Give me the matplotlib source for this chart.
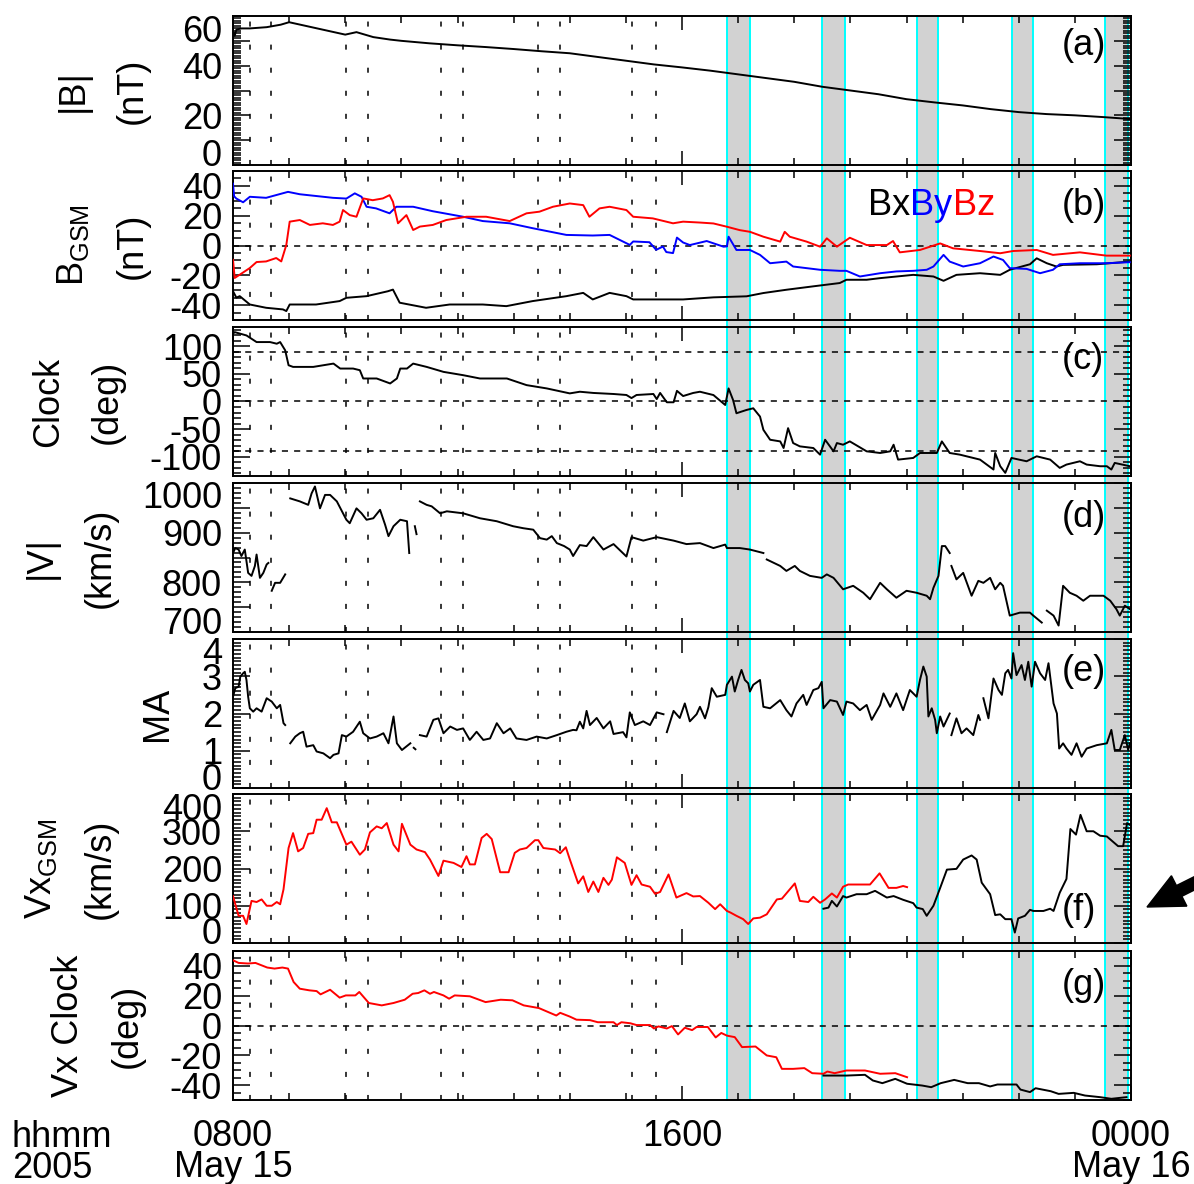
import numpy as np
import matplotlib
matplotlib.use('Agg')
import matplotlib.pyplot as plt
from matplotlib.patches import Rectangle, FancyArrow
from matplotlib.lines import Line2D
from matplotlib.transforms import blended_transform_factory, ScaledTranslation

plt.rcParams['font.family'] = 'Liberation Sans'
plt.rcParams['mathtext.fontset'] = 'custom'
plt.rcParams['mathtext.rm'] = 'Liberation Sans'
plt.rcParams['mathtext.it'] = 'Liberation Sans:italic'
plt.rcParams['mathtext.default'] = 'regular'

nan = np.nan
# time in hours of May 15 (24 = 0000 May 16)

# (a) |B| nT
bmag_pts = [(8.00, 54), (8.03, 52), (8.06, 54.5), (8.15, 55), (8.30, 55), (8.60, 55.5), (8.85, 56.5),
            (9.00, 57.5), (9.20, 56.5), (9.50, 55), (9.80, 53.5), (10.00, 52.5), (10.20, 53.5),
            (10.50, 51.5), (10.80, 50.5), (11.00, 50), (11.50, 49), (12.00, 48.2), (12.50, 47.5),
            (13.00, 46.7), (13.50, 45.8), (14.00, 45), (14.50, 43.5), (15.00, 42), (15.50, 40.5),
            (16.00, 39.3), (16.50, 38), (17.00, 36.5), (17.50, 35), (18.00, 33.5), (18.50, 31.5),
            (19.00, 30), (19.50, 28.5), (20.00, 26.5), (20.50, 25.2), (21.00, 24), (21.50, 22.5),
            (22.00, 21.3), (22.50, 20.5), (23.00, 20), (23.50, 19.3), (24.00, 18.5)]

# (b) B GSM components nT
bx_pts = [(8.00, -30.7), (8.06, -35), (8.12, -34), (8.30, -39.6), (8.59, -41.8), (8.89, -42.9),
          (8.95, -44), (9.01, -39.6), (9.48, -39.6), (9.90, -37.3), (10.02, -35.1), (10.38, -34),
          (10.76, -30.7), (10.85, -29.6), (10.97, -38.4), (11.44, -41.8), (11.86, -39.6),
          (12.45, -39.6), (12.87, -40.7), (13.34, -37.3), (13.94, -34), (14.24, -31.8),
          (14.41, -36.2), (14.71, -31.8), (15.01, -34), (15.13, -36.2), (15.54, -36.2),
          (16.02, -36.2), (16.56, -34.8), (17.15, -34.1), (17.45, -31.9), (17.86, -29.7),
          (18.34, -27.4), (18.81, -25.2), (18.93, -23), (19.29, -23), (19.53, -21.9),
          (20.12, -19.7), (20.48, -20.8), (20.66, -23.7), (20.89, -19.7), (21.31, -18.6),
          (21.67, -19.7), (21.84, -16.3), (22.20, -12.6), (22.32, -8.6), (22.50, -11.9),
          (22.67, -14.1), (22.79, -13), (23.39, -12.6), (23.98, -10.8)]
by_pts = [(8.00, 41.5), (8.02, 33), (8.06, 31.5), (8.18, 29), (8.30, 32.7), (8.59, 32), (8.98, 36),
          (9.19, 34.4), (9.78, 32), (10.02, 31.5), (10.17, 35), (10.29, 32.7), (10.38, 26),
          (10.55, 24.9), (10.79, 21.6), (10.91, 26), (11.21, 26), (11.56, 23), (12.10, 19.3),
          (12.45, 16.4), (12.93, 14.9), (13.34, 11.6), (13.94, 7.1), (14.41, 6.7), (14.71, 7.1),
          (15.07, 0.4), (15.13, 2.7), (15.42, 2.2), (15.54, -2.9), (15.66, -0.7), (15.72, -4.4),
          (15.84, -5.1), (15.91, 5.3), (16.02, 2), (16.14, 0.3), (16.44, 3.0), (16.74, -0.8),
          (16.80, -0.6), (16.83, 5.9), (16.97, -3), (17.21, -3), (17.39, -6.3), (17.57, -11.9),
          (17.86, -10.8), (17.98, -14.1), (18.46, -16.3), (18.81, -17), (18.93, -17),
          (19.17, -20.8), (19.53, -18.6), (19.82, -17.4), (20.12, -17), (20.36, -16.3),
          (20.48, -14.1), (20.66, -6.3), (20.77, -10.8), (21.01, -14.1), (21.31, -11.9),
          (21.55, -7.4), (21.72, -9.7), (21.84, -15.2), (22.14, -15.7), (22.38, -18.6),
          (22.61, -16.3), (22.73, -12.6), (23.09, -11.9), (23.56, -11.9), (23.98, -11.2)]
bz_pts = [(8.00, -9.6), (8.03, -21.8), (8.12, -19.6), (8.30, -15.1), (8.42, -11.1), (8.59, -10.7),
          (8.77, -8.4), (8.86, -10.7), (8.95, 0.4), (9.01, 16), (9.19, 17.1), (9.37, 13.8),
          (9.60, 14.9), (9.78, 13.8), (9.90, 16), (9.96, 23.8), (10.08, 20.4), (10.20, 19.3),
          (10.32, 31.6), (10.49, 30.4), (10.67, 31.6), (10.79, 33.8), (10.85, 29.3), (10.94, 14.9),
          (11.09, 20.4), (11.21, 10.4), (11.33, 12.7), (11.56, 13.8), (11.80, 17.1), (12.16, 19.3),
          (12.51, 19.3), (12.93, 16.4), (13.23, 21.6), (13.46, 22.7), (13.70, 26), (14.00, 28.2),
          (14.24, 27.1), (14.35, 19.3), (14.53, 24.9), (14.71, 26), (15.01, 23.8), (15.13, 19.3),
          (15.48, 18.2), (15.84, 14.9), (16.02, 16), (16.32, 15.4), (16.56, 14.8), (16.80, 12.6),
          (17.03, 10.3), (17.21, 9.2), (17.45, 5.9), (17.75, 2.6), (17.83, 9.2), (17.92, 5.9),
          (18.22, 2.6), (18.46, -0.8), (18.58, 4.8), (18.76, -0.8), (18.99, 5.2), (19.29, 0.3),
          (19.65, 0.3), (19.76, 3), (19.88, -4.6), (20.24, -3), (20.60, 1.4), (20.83, -1.9),
          (21.31, -3.7), (21.67, -5.2), (21.90, -3.7), (22.32, -3), (22.61, -6.3), (23.09, -4.6),
          (23.56, -6.8), (23.98, -6.8)]

# (c) IMF clock angle deg
clock_pts = [(8.00, 122.7), (8.03, 125.7), (8.24, 119.7), (8.42, 107.7), (8.66, 107.7), (8.78, 104.7),
             (8.84, 107.7), (8.93, 92.7), (8.99, 65.7), (9.07, 62.7), (9.43, 62.7), (9.79, 68.7),
             (9.91, 59.7), (10.14, 59.7), (10.26, 56.7), (10.32, 41.7), (10.56, 41.7), (10.80, 32.7),
             (10.92, 41.7), (10.98, 59.7), (11.10, 59.7), (11.21, 68.7), (11.45, 62.7), (11.75, 53.7),
             (12.10, 47.7), (12.40, 41.7), (12.88, 41.7), (13.23, 29.7), (13.59, 23.7), (14.00, 14.7),
             (14.18, 17.7), (14.42, 15.5), (14.78, 13.6), (15.01, 11.8), (15.10, 6.2), (15.19, 11.8),
             (15.49, 13.6), (15.55, 4.4), (15.61, 15.5), (15.73, -1.4), (15.85, -1.4), (15.91, 19.3),
             (16.02, 9.9), (16.20, 15.5), (16.32, 17.7), (16.56, 11.7), (16.77, -6.3), (16.83, 23.7),
             (16.91, 2.7), (16.97, -21.3), (17.15, -15.3), (17.27, -12.3), (17.39, -27.3),
             (17.45, -51.3), (17.57, -69.3), (17.75, -72.3), (17.81, -84.3), (17.89, -48.3),
             (17.98, -75.3), (18.10, -81.3), (18.34, -84.3), (18.46, -96.3), (18.55, -69.3),
             (18.70, -90.3), (18.76, -75.3), (18.87, -78.3), (18.99, -72.3), (19.29, -90.3),
             (19.53, -93.3), (19.71, -90.3), (19.77, -78.3), (19.85, -105.3), (20.12, -102.3),
             (20.24, -93.3), (20.54, -93.3), (20.63, -72.3), (20.77, -93.3), (20.95, -96.3),
             (21.31, -105.3), (21.55, -123.3), (21.58, -93.3), (21.67, -117.3), (21.76, -129.3),
             (21.87, -102.3), (22.14, -108.3), (22.32, -99.3), (22.56, -105.3), (22.73, -120.3),
             (22.85, -114.3), (23.09, -108.3), (23.21, -114.3), (23.45, -117.3), (23.57, -117.3),
             (23.65, -123.3), (23.71, -111.3), (23.98, -117.3)]

# (d) |V| km/s (nan = data gap)
vmag_pts = [(8.00, 859), (8.04, 869), (8.10, 866), (8.15, 853), (8.21, 866), (8.27, 819), (8.33, 813),
            (8.39, 833), (8.42, 856), (8.48, 809), (8.54, 819), (8.60, 836), (8.63, 839), (8.66, nan),
            (8.69, 783), (8.75, 799), (8.84, 799), (8.93, 816), (8.97, nan),
            (9.02, 969), (9.19, 963), (9.34, 956), (9.40, 979), (9.46, 993), (9.55, 949), (9.64, 976),
            (9.73, 976), (9.85, 963), (10.02, 926), (10.08, 919), (10.20, 949), (10.29, 939),
            (10.38, 926), (10.50, 929), (10.62, 946), (10.71, 916), (10.77, 893), (10.86, 913),
            (10.98, 926), (11.10, 923), (11.14, 859), (11.19, nan),
            (11.24, 913), (11.27, 897), (11.30, nan),
            (11.33, 963), (11.45, 956), (11.54, 953), (11.69, 939), (11.81, 943), (12.10, 939),
            (12.40, 929), (12.70, 923), (12.99, 913), (13.17, 909), (13.35, 906), (13.47, 889),
            (13.59, 886), (13.68, 893), (13.77, 879), (13.90, 873), (14.00, 866), (14.06, 853),
            (14.18, 875), (14.30, 873), (14.42, 891), (14.60, 866), (14.78, 877), (15.01, 852),
            (15.10, 891), (15.31, 884), (15.55, 891), (15.85, 884), (16.08, 877), (16.32, 879),
            (16.56, 869), (16.77, 876), (16.80, 869), (17.03, 869), (17.21, 866), (17.45, 859),
            (17.48, nan),
            (17.51, 846), (17.75, 833), (17.86, 823), (18.01, 833), (18.10, 823), (18.28, 813),
            (18.49, 809), (18.58, 816), (18.70, 809), (18.87, 786), (19.05, 793), (19.23, 779),
            (19.35, 766), (19.53, 799), (19.65, 786), (19.82, 769), (20.00, 783), (20.18, 779),
            (20.36, 773), (20.42, 766), (20.48, 789), (20.57, 813), (20.63, 873), (20.69, 873),
            (20.77, 859), (20.78, nan),
            (20.80, 833), (20.89, 806), (21.01, 819), (21.16, 773), (21.28, 803), (21.37, 799),
            (21.49, 809), (21.58, 786), (21.67, 799), (21.72, 793), (21.84, 733), (22.02, 739),
            (22.20, 739), (22.26, 733), (22.41, 719), (22.45, nan),
            (22.50, 743), (22.62, 733), (22.71, 713), (22.79, 793), (22.91, 779), (23.03, 773),
            (23.15, 763), (23.27, 773), (23.51, 773), (23.63, 763), (23.74, 746), (23.80, 733),
            (23.89, 753), (23.98, 746)]

# (e) Alfven Mach number
ma_pts = [(8.00, 2.45), (8.04, 2.68), (8.10, 2.72), (8.13, 2.99), (8.18, 3.08), (8.21, 3.12), (8.24, 2.90),
          (8.27, 2.45), (8.30, 2.14), (8.36, 2.05), (8.42, 2.14), (8.51, 2.05), (8.60, 2.41), (8.69, 2.32),
          (8.78, 2.14), (8.84, 2.23), (8.90, 1.74), (8.93, 1.69), (8.97, nan),
          (9.02, 1.20), (9.11, 1.38), (9.19, 1.47), (9.25, 1.51), (9.31, 1.11), (9.43, 1.15),
          (9.49, 0.98), (9.61, 0.93), (9.73, 0.80), (9.79, 0.89), (9.88, 0.93), (9.94, 1.42),
          (10.02, 1.38), (10.14, 1.51), (10.26, 1.78), (10.32, 1.47), (10.44, 1.33), (10.56, 1.38),
          (10.68, 1.47), (10.77, 1.20), (10.86, 1.92), (10.92, 1.20), (11.01, 1.02), (11.16, 1.20),
          (11.19, nan),
          (11.22, 1.08), (11.25, 1.04), (11.29, nan),
          (11.33, 1.42), (11.45, 1.38), (11.57, 1.83), (11.66, 1.87), (11.75, 1.47), (11.87, 1.65),
          (11.99, 1.56), (12.10, 1.60), (12.22, 1.29), (12.34, 1.51), (12.46, 1.29), (12.58, 1.33),
          (12.70, 1.74), (12.82, 1.47), (12.94, 1.60), (13.05, 1.33), (13.23, 1.29), (13.41, 1.38),
          (13.59, 1.33), (13.77, 1.42), (13.94, 1.51), (14.06, 1.56), (14.12, 1.55), (14.18, 1.78),
          (14.24, 1.60), (14.30, 2.07), (14.36, 1.69), (14.48, 1.88), (14.60, 1.60), (14.72, 1.79),
          (14.78, 1.45), (14.95, 1.50), (15.01, 1.36), (15.07, 2.03), (15.16, 1.69), (15.31, 1.79),
          (15.43, 1.69), (15.55, 2.03), (15.67, 1.98), (15.70, nan),
          (15.73, 1.50), (15.85, 2.07), (15.96, 1.88), (16.05, 2.27), (16.14, 1.79), (16.26, 1.98),
          (16.32, 2.18), (16.41, 1.87), (16.47, 2.17), (16.53, 2.68), (16.62, 2.45), (16.77, 2.50),
          (16.80, 2.77), (16.89, 2.99), (16.94, 2.59), (17.00, 2.90), (17.06, 3.17), (17.12, 2.90),
          (17.18, 2.81), (17.21, 2.59), (17.27, 2.77), (17.39, 2.90), (17.45, 2.18), (17.57, 2.14),
          (17.75, 2.36), (17.86, 2.09), (17.95, 1.92), (18.04, 2.27), (18.16, 2.50), (18.22, 2.23),
          (18.34, 2.63), (18.43, 2.68), (18.49, 2.85), (18.52, 2.14), (18.64, 2.36), (18.76, 2.32),
          (18.87, 1.96), (18.93, 2.32), (19.05, 2.27), (19.17, 2.09), (19.29, 2.23), (19.38, 1.83),
          (19.53, 2.23), (19.59, 2.54), (19.71, 2.18), (19.82, 2.54), (19.94, 2.09), (20.06, 2.63),
          (20.18, 2.45), (20.24, 2.90), (20.30, 3.26), (20.36, 2.99), (20.39, 1.92), (20.45, 2.14),
          (20.51, 1.83), (20.54, 1.47), (20.60, 1.92), (20.66, 1.65), (20.77, 2.00), (20.78, nan),
          (20.80, 1.42), (20.89, 1.87), (20.98, 1.47), (21.07, 1.60), (21.19, 1.42), (21.28, 1.96),
          (21.31, 1.83), (21.34, nan),
          (21.37, 2.41), (21.46, 1.87), (21.55, 2.94), (21.64, 2.63), (21.70, 2.50), (21.76, 3.08),
          (21.81, 3.17), (21.87, 2.94), (21.90, 3.62), (21.96, 3.03), (22.05, 3.30), (22.11, 2.90),
          (22.17, 3.39), (22.23, 2.72), (22.29, 3.39), (22.38, 3.08), (22.47, 2.90), (22.53, 3.35),
          (22.62, 2.27), (22.68, 2.00), (22.72, 1.06), (22.79, 1.20), (22.85, 1.06), (22.94, 0.89),
          (23.03, 1.20), (23.12, 0.84), (23.21, 1.06), (23.39, 1.15), (23.57, 1.20), (23.65, 1.56),
          (23.71, 1.02), (23.80, 1.02), (23.89, 1.42), (23.95, 1.02), (23.98, 1.20)]

# (f) Vx GSM km/s: red and black traces
vx_red_pts = [(8.00, 126), (8.10, 73), (8.18, 73), (8.24, 51), (8.33, 113), (8.42, 110), (8.51, 117),
              (8.60, 100), (8.69, 100), (8.78, 110), (8.84, 104), (8.90, 144), (8.99, 255), (9.07, 295),
              (9.16, 246), (9.25, 255), (9.34, 293), (9.43, 295), (9.49, 331), (9.58, 331), (9.67, 362),
              (9.76, 324), (9.85, 324), (10.02, 264), (10.11, 272), (10.26, 237), (10.35, 251),
              (10.44, 297), (10.56, 313), (10.65, 308), (10.74, 322), (10.86, 264), (10.95, 246),
              (11.01, 320), (11.16, 264), (11.27, 251), (11.42, 244), (11.51, 224), (11.66, 180),
              (11.75, 221), (11.93, 215), (12.07, 204), (12.16, 233), (12.22, 211), (12.31, 211),
              (12.43, 282), (12.52, 293), (12.61, 279), (12.76, 190), (12.91, 190), (13.02, 242),
              (13.11, 251), (13.23, 255), (13.38, 276), (13.44, 276), (13.53, 255), (13.74, 251),
              (13.83, 241), (13.93, 257), (14.00, 225), (14.15, 160), (14.24, 179), (14.33, 137),
              (14.42, 165), (14.51, 137), (14.60, 175), (14.69, 156), (14.75, 170), (14.84, 230),
              (14.98, 215), (15.10, 156), (15.19, 182), (15.28, 157), (15.43, 151), (15.52, 132),
              (15.61, 137), (15.76, 184), (15.90, 122), (16.08, 134), (16.20, 125), (16.32, 126),
              (16.47, 108), (16.59, 91), (16.68, 104), (16.80, 86), (16.86, 82), (16.97, 73),
              (17.09, 64), (17.18, 51), (17.27, 66), (17.39, 68), (17.51, 77), (17.69, 117),
              (17.78, 119), (18.01, 160), (18.10, 113), (18.25, 110), (18.34, 124), (18.46, 108),
              (18.55, 117), (18.67, 133), (18.76, 122), (18.87, 151), (18.96, 157), (19.17, 157),
              (19.35, 157), (19.52, 187), (19.68, 148), (19.82, 148), (19.94, 153), (20.01, 150)]
vx_blk_pts = [(18.52, 92), (18.61, 95), (18.67, 113), (18.76, 98), (18.87, 126), (18.93, 122),
              (19.11, 131), (19.29, 131), (19.44, 140), (19.65, 122), (19.77, 126), (19.94, 116),
              (20.12, 107), (20.18, 95), (20.29, 91), (20.36, 73), (20.48, 100), (20.60, 148),
              (20.72, 197), (20.89, 199), (21.01, 224), (21.16, 235), (21.25, 224), (21.34, 162),
              (21.49, 131), (21.58, 75), (21.67, 77), (21.76, 64), (21.87, 64), (21.93, 28),
              (21.99, 66), (22.11, 73), (22.20, 89), (22.26, 86), (22.44, 86), (22.56, 92),
              (22.62, 86), (22.73, 135), (22.85, 172), (22.92, 306), (23.02, 291), (23.10, 344),
              (23.21, 300), (23.33, 300), (23.45, 288), (23.57, 286), (23.77, 260), (23.86, 260),
              (23.93, 322), (23.98, 317)]

# (g) Vx clock angle deg: red and black traces
vc_red_pts = [(8.00, 43.8), (8.10, 42), (8.27, 41.6), (8.40, 42), (8.61, 38.9), (8.74, 38.2), (8.88, 38.9),
              (8.98, 38.2), (9.08, 29.2), (9.19, 24.7), (9.36, 23.6), (9.49, 23.1), (9.56, 20.9),
              (9.73, 24), (9.90, 18.7), (10.01, 20.2), (10.18, 20.2), (10.25, 22.5), (10.42, 15.1),
              (10.65, 13.5), (10.86, 15.1), (11.06, 17.3), (11.20, 21.3), (11.30, 21.8), (11.41, 23.6),
              (11.51, 21.3), (11.58, 22.5), (11.75, 20.2), (11.85, 18), (11.95, 20.2), (12.22, 19.6),
              (12.50, 15.7), (12.77, 17.3), (12.98, 16.9), (13.18, 13.5), (13.45, 11.7), (13.76, 6.7),
              (13.83, 8.5), (14.00, 6.0), (14.12, 3.9), (14.36, 3.6), (14.50, 2.2), (14.78, 2.2),
              (14.84, 0.3), (14.92, 2.2), (15.08, 1.5), (15.19, 0.3), (15.43, 0.3), (15.50, -2),
              (15.58, -0.6), (15.73, -2), (15.82, -0.4), (15.93, -6), (16.05, -1.5), (16.18, -3.1),
              (16.26, -1.0), (16.46, -1.0), (16.60, -8), (16.70, -5), (16.80, -6.8), (16.94, -7.8),
              (17.07, -14.5), (17.31, -14.1), (17.51, -20.1), (17.68, -21.3), (17.78, -29.1),
              (17.98, -29.1), (18.18, -28.6), (18.32, -32), (18.52, -32.4), (18.59, -30.9),
              (18.72, -32), (18.93, -30.2), (19.26, -30.2), (19.53, -32.4), (19.80, -32), (20.01, -34.7)]
vc_blk_pts = [(18.52, -33.6), (18.93, -33.6), (19.26, -33.1), (19.40, -36.9), (19.57, -38.7),
              (19.80, -35.8), (20.01, -39.1), (20.28, -40.3), (20.44, -41.4), (20.61, -38.7),
              (20.85, -36.5), (21.09, -38.7), (21.29, -38.7), (21.49, -40.9), (21.62, -39.6),
              (21.96, -39.6), (22.03, -43), (22.20, -44.7), (22.30, -42.1), (22.57, -44.1),
              (22.71, -45.9), (22.98, -45.2), (23.18, -47), (23.45, -48.1), (23.65, -49.2),
              (23.92, -48.1)]

# event marks
dash_times = [8.30, 8.68, 10.01, 10.40, 11.70, 12.10, 13.43, 13.83, 15.11, 15.54]
band_start = [16.80, 18.49, 20.19, 21.88, 23.54]
band_end = [17.21, 18.90, 20.57, 22.26, 23.95]


def xy(pts):
    a = np.array(pts, dtype=float)
    return a[:, 0], a[:, 1]


FS = 26
W, H = 1194, 1184
fig = plt.figure(figsize=(W / 100, H / 100), dpi=100)

tops = [16, 171, 327, 483, 639, 794, 951]
ph = 149
axes = []
for top in tops:
    ax = fig.add_axes([233 / W, 1 - (top + ph) / H, 898 / W, ph / H])
    ax.set_facecolor('none')
    axes.append(ax)
ax_a, ax_b, ax_c, ax_d, ax_e, ax_f, ax_g = axes

vdash = (0, (3.3, 11.8))
hdash = (0, (4, 4))


def style(ax, ylim, major, labels, minor, squeeze):
    ax.set_xlim(8, 24)
    ax.set_ylim(*ylim)
    ax.set_yticks(major)
    ax.set_yticklabels(labels)
    ax.set_yticks(minor, minor=True)
    ax.set_xticks([8, 16, 24])
    ax.set_xticks(np.arange(8, 25), minor=True)
    ax.tick_params(which='both', direction='in', top=True, right=True, width=1.1,
                   labelsize=FS, pad=8, color='k')
    ax.tick_params(axis='x', which='major', pad=14)
    ax.tick_params(axis='y', which='major', length=12)
    ax.tick_params(axis='y', which='minor', length=5.5)
    ax.tick_params(axis='x', which='major', length=10)
    ax.tick_params(axis='x', which='minor', length=5)
    for s in ax.spines.values():
        s.set_linewidth(1.4)
    for t in dash_times:
        ax.axvline(t, color='k', lw=1.1, ls=vdash, zorder=1)
    if squeeze:
        # end labels pulled inside the panel, as in the original
        tl = ax.get_yticklabels()
        sh = 12 / 100
        tl[0].set_transform(tl[0].get_transform() + ScaledTranslation(0, sh, fig.dpi_scale_trans))
        tl[-1].set_transform(tl[-1].get_transform() + ScaledTranslation(0, -sh, fig.dpi_scale_trans))


def ylab(ax, text, xr):
    ax.set_ylabel(text, fontsize=FS, linespacing=1.9)
    ax.yaxis.set_label_coords((xr - 233) / 898, 0.5)


def tag(ax, s, yf):
    ax.text(0.923, yf, s, transform=ax.transAxes, ha='left', va='center', fontsize=FS)


lw = 1.4

# (a)
t, v = xy(bmag_pts)
ax_a.plot(t, v, color='k', lw=lw, zorder=3)
style(ax_a, (0, 60), np.arange(0, 61, 10), ['0', '', '20', '', '40', '', '60'],
      np.arange(0, 61, 1), True)
ylab(ax_a, '|B|\n(nT)', 150)
tag(ax_a, '(a)', 0.80)

# (b)
for pts, c in ((bx_pts, 'k'), (by_pts, '#0000ff'), (bz_pts, '#ff0000')):
    t, v = xy(pts)
    ax_b.plot(t, v, color=c, lw=lw, zorder=3)
ax_b.axhline(0, color='k', lw=1.1, ls=hdash, zorder=1)
style(ax_b, (-50, 50), [-40, -20, 0, 20, 40], ['-40', '-20', '0', '20', '40'],
      np.arange(-50, 51, 5), False)
ylab(ax_b, 'B$_{GSM}$\n(nT)', 150)
tag(ax_b, '(b)', 0.77)
t1 = ax_b.text((868 - 233) / 898, 0.77, 'Bx', transform=ax_b.transAxes, fontsize=FS,
               color='k', va='center', ha='left')
t2 = ax_b.annotate('By', xy=(1, 0), xycoords=t1, va='bottom', ha='left', fontsize=FS, color='#0000ff')
ax_b.annotate('Bz', xy=(1, 0), xycoords=t2, va='bottom', ha='left', fontsize=FS, color='#ff0000')

# (c)
t, v = xy(clock_pts)
ax_c.plot(t, v, color='k', lw=lw, zorder=3)
for h in (90, 0, -90):
    ax_c.axhline(h, color='k', lw=1.1, ls=hdash, zorder=1)
style(ax_c, (-135, 135), [-100, -50, 0, 50, 100], ['-100', '-50', '0', '50', '100'],
      np.arange(-130, 131, 10), False)
ylab(ax_c, 'Clock\n(deg)', 125)
tag(ax_c, '(c)', 0.78)

# (d)
t, v = xy(vmag_pts)
ax_d.plot(t, v, color='k', lw=lw, zorder=3)
style(ax_d, (700, 1000), np.arange(700, 1001, 50), ['700', '', '800', '', '900', '', '1000'],
      np.arange(700, 1001, 10), True)
ylab(ax_d, '|V|\n(km/s)', 118)
tag(ax_d, '(d)', 0.77)

# (e)
t, v = xy(ma_pts)
ax_e.plot(t, v, color='k', lw=lw, zorder=3)
style(ax_e, (0, 4), [0, 1, 2, 3, 4], ['0', '1', '2', '3', '4'], np.arange(0, 4.01, 0.1), True)
ylab(ax_e, 'MA', 175)
tag(ax_e, '(e)', 0.78)

# (f)
t, v = xy(vx_red_pts)
ax_f.plot(t, v, color='#ff0000', lw=lw, zorder=3)
t, v = xy(vx_blk_pts)
ax_f.plot(t, v, color='k', lw=lw, zorder=3)
style(ax_f, (0, 400), [0, 100, 200, 300, 400], ['0', '100', '200', '300', '400'],
      np.arange(0, 401, 10), True)
ylab(ax_f, 'Vx$_{GSM}$\n(km/s)', 118)
tag(ax_f, '(f)', 0.22)

# (g)
t, v = xy(vc_red_pts)
ax_g.plot(t, v, color='#ff0000', lw=lw, zorder=3)
t, v = xy(vc_blk_pts)
ax_g.plot(t, v, color='k', lw=lw, zorder=3)
ax_g.axhline(0, color='k', lw=1.1, ls=hdash, zorder=1)
style(ax_g, (-50, 50), [-40, -20, 0, 20, 40], ['-40', '-20', '0', '20', '40'],
      np.arange(-50, 51, 5), False)
ylab(ax_g, 'Vx Clock\n(deg)', 145)
tag(ax_g, '(g)', 0.77)

for ax in axes[:-1]:
    ax.tick_params(axis='x', labelbottom=False)
ax_g.set_xticklabels(['0800\nMay 15', '1600', '0000\nMay 16'])
for lab in ax_g.get_xticklabels():
    lab.set_linespacing(0.85)
    lab.set_va('top')

fig.text(12 / W, 1 - 1120 / H, 'hhmm\n2005', ha='left', va='top', fontsize=FS, linespacing=0.85)

# shaded intervals spanning all panels
trans = blended_transform_factory(ax_g.transData, fig.transFigure)
ylo, yhi = 1 - 1100 / H, 1 - 16 / H
for s, e in zip(band_start, band_end):
    fig.add_artist(Rectangle((s, ylo), e - s, yhi - ylo, transform=trans,
                             facecolor='#d2d2d2', edgecolor='none', zorder=-2))
    for x in (s, e):
        fig.add_artist(Line2D([x, x], [ylo, yhi], transform=trans, color='#00ffff',
                              lw=1.4, zorder=-1))

# arrow pointing at panel (f)
fig.add_artist(FancyArrow(1215 / W, 1 - 873 / H, -68 / W, -34 / H, width=12 / H,
                          head_width=34 / H, head_length=36 / W, length_includes_head=True,
                          transform=fig.transFigure, color='k'))

fig.savefig('out.png', dpi=100)
